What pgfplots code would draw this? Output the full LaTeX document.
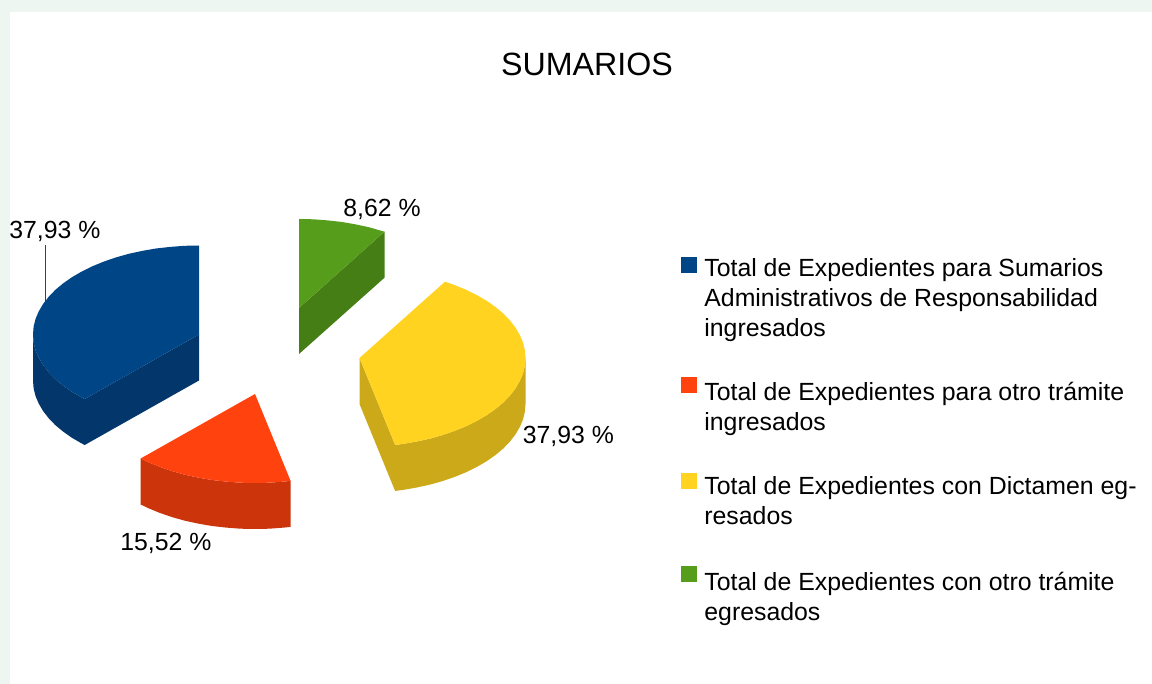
\documentclass[border=0pt]{standalone}
\usepackage{fontspec}
\setmainfont{Liberation Sans}
\usepackage{pgfplots}
\pgfplotsset{compat=1.18}

\definecolor{cblue}{HTML}{004586}
\definecolor{cbluedk}{HTML}{03366B}
\definecolor{cred}{HTML}{FF420E}
\definecolor{creddk}{HTML}{CC350B}
\definecolor{cyel}{HTML}{FFD320}
\definecolor{cyeldk}{HTML}{CCA919}
\definecolor{cgrn}{HTML}{579D1C}
\definecolor{cgrndk}{HTML}{467E16}
\definecolor{cbg}{HTML}{EEF6F1}

\pgfplotsset{
	swatch/.style 2 args={legend image code/.code={\path (0pt,0pt) (8pt,0pt);\fill[#1,overlay] (0pt,#2) rectangle ++(8pt,8pt);}},
}

\begin{document}
\begin{tikzpicture}
\begin{axis}[
	width=576pt,
	height=342pt,
	scale only axis,
	xmin=0, xmax=1152,
	ymin=0, ymax=684,
	y dir=reverse,
	hide axis,
	title={SUMARIOS},
	title style={at={(axis cs:587,88)},anchor=base,inner sep=0pt,font=\fontsize{16.1}{19}\selectfont},
	legend style={
		at={(axis cs:681,258)},anchor=north west,
		draw=none,fill=none,inner sep=0pt,
		nodes={inner sep=0pt},
		row sep=0pt,column sep=3.5pt,
		font=\fontsize{12.42}{15}\selectfont,
	},
	legend cell align=left,
]

% page background
\addplot[fill=cbg,draw=none,forget plot] coordinates {(0,0)(1152,0)(1152,684)(0,684)};
\addplot[fill=white,draw=none,forget plot] coordinates {(10,12)(1152,12)(1152,684)(10,684)};

% leader line
\addplot[draw=black!75,line width=0.4pt,forget plot] coordinates {(45,245)(45,302)};

% blue slice
\addplot[fill=cbluedk,draw=none,forget plot] coordinates {
	(199,334.5)(84.7,399)(81.6,397.4)(71.8,391.7)(63,385.5)(55.2,379)(48.6,372.1)(43,364.9)(38.7,357.5)(35.5,350)(33.6,342.3)(33,334.5)
	(33,380.5)(33.6,388.3)(35.5,396)(38.7,403.5)(43,410.9)(48.6,418.1)(55.2,425)(63,431.5)(71.8,437.7)(81.6,443.4)(84.7,445)(199,380.5)};
\addplot[fill=cblue,draw=none,swatch={cblue}{-2.25pt}] coordinates {
	(199,334.5)(84.7,399)(81.6,397.4)(71.8,391.7)(63,385.5)(55.2,379)(48.6,372.1)(43,364.9)(38.7,357.5)(35.5,350)(33.6,342.3)(33,334.5)
	(33.6,326.7)(35.5,319)(38.7,311.5)(43,304.1)(48.6,296.9)(55.2,290)(63,283.5)(71.8,277.3)(81.6,271.6)(92.3,266.3)(103.8,261.6)
	(116,257.4)(128.8,253.8)(142.2,250.9)(156,248.5)(170.2,246.9)(184.5,245.8)(199,245.5)};
\addlegendentry{\parbox[t]{220pt}{Total de Expedientes para Sumarios\\Administrativos de Responsabilidad\\ingresados}}

% red slice
\addplot[fill=creddk,draw=none,forget plot] coordinates {
	(290.6,480.9)(283.8,481.6)(269.5,482.7)(255,483)(240.5,482.7)(226.2,481.6)(212,480)(198.2,477.6)(184.8,474.7)(172,471.1)(159.8,466.9)(148.3,462.2)(140.7,458.5)
	(140.7,504.5)(148.3,508.2)(159.8,512.9)(172,517.1)(184.8,520.7)(198.2,523.6)(212,526)(226.2,527.6)(240.5,528.7)(255,529)(269.5,528.7)(283.8,527.6)(290.6,526.9)};
\addplot[fill=cred,draw=none,swatch={cred}{-25.75pt}] coordinates {
	(255,394)(290.6,480.9)(283.8,481.6)(269.5,482.7)(255,483)(240.5,482.7)(226.2,481.6)(212,480)(198.2,477.6)(184.8,474.7)(172,471.1)(159.8,466.9)(148.3,462.2)(140.7,458.5)};
\addlegendentry{\parbox[t]{220pt}{\rule{0pt}{60.4pt}Total de Expedientes para otro trámite\\ingresados}}

% yellow slice
\addplot[fill=cyeldk,draw=none,forget plot] coordinates {
	(359.5,358)(395.1,444.9)(402.5,444)(416.3,441.6)(429.7,438.7)(442.5,435.1)(454.7,430.9)(466.2,426.2)(476.9,420.9)(486.7,415.2)(495.5,409)(503.3,402.5)(509.9,395.6)(515.5,388.4)(519.8,381)(523,373.5)(524.9,365.8)(525.5,358)
	(525.5,404)(524.9,411.8)(523,419.5)(519.8,427)(515.5,434.4)(509.9,441.6)(503.3,448.5)(495.5,455)(486.7,461.2)(476.9,466.9)(466.2,472.2)(454.7,476.9)(442.5,481.1)(429.7,484.7)(416.3,487.6)(402.5,490)(395.1,490.9)(359.5,404)};
\addplot[fill=cyel,draw=none,swatch={cyel}{-19.25pt}] coordinates {
	(359.5,358)(445,281.7)(454.7,285.1)(466.2,289.8)(476.9,295.1)(486.7,300.8)(495.5,307)(503.3,313.5)(509.9,320.4)(515.5,327.6)(519.8,335)(523,342.5)(524.9,350.2)(525.5,358)
	(524.9,365.8)(523,373.5)(519.8,381)(515.5,388.4)(509.9,395.6)(503.3,402.5)(495.5,409)(486.7,415.2)(476.9,420.9)(466.2,426.2)(454.7,430.9)(442.5,435.1)(429.7,438.7)(416.3,441.6)(402.5,444)(395.1,444.9)};
\addlegendentry{\parbox[t]{220pt}{\rule{0pt}{45.9pt}Total de Expedientes con Dictamen eg-\\resados}}

% green slice
\addplot[fill=cgrndk,draw=none,forget plot] coordinates {(299,308)(384.5,231.7)(384.5,277.7)(299,354)};
\addplot[fill=cgrn,draw=none,swatch={cgrn}{-18.25pt}] coordinates {(299,308)(299,219)(313.5,219.3)(327.8,220.4)(342,222)(355.8,224.4)(369.2,227.3)(384.5,231.7)};
\addlegendentry{\parbox[t]{220pt}{\rule{0pt}{46.4pt}Total de Expedientes con otro trámite\\egresados}}

% value labels
\node[anchor=base west,inner sep=0pt,font=\fontsize{12.4}{15}\selectfont] at (axis cs:9,239) {37,93 \%};
\node[anchor=base west,inner sep=0pt,font=\fontsize{12.4}{15}\selectfont] at (axis cs:343,217) {8,62 \%};
\node[anchor=base west,inner sep=0pt,font=\fontsize{12.4}{15}\selectfont] at (axis cs:522.5,444) {37,93 \%};
\node[anchor=base west,inner sep=0pt,font=\fontsize{12.4}{15}\selectfont] at (axis cs:120,550) {15,52 \%};
\end{axis}
\end{tikzpicture}
\end{document}
